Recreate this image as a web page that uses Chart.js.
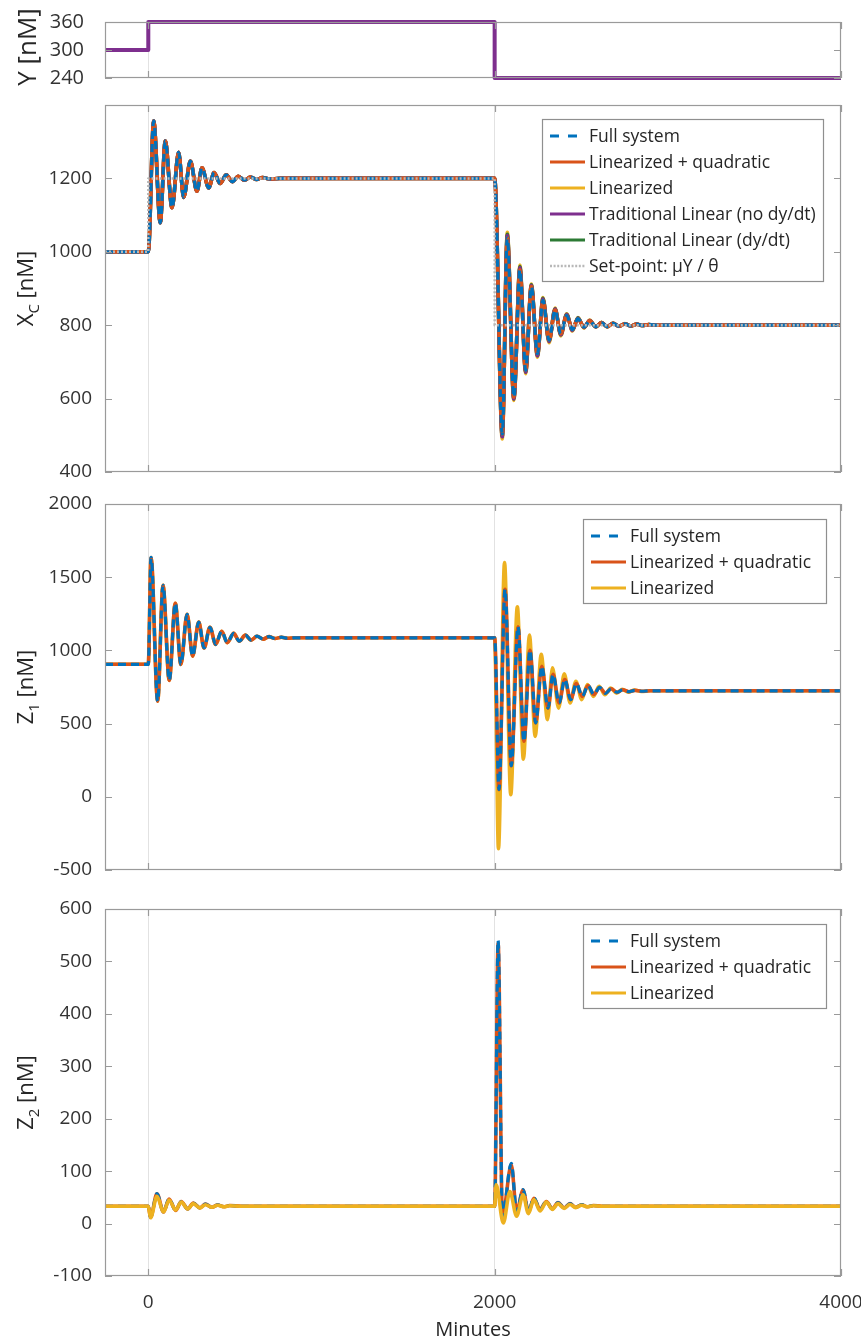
<!DOCTYPE html>
<html>
<head>
<meta charset="utf-8">
<script src="https://cdn.jsdelivr.net/npm/chart.js@4.4.1/dist/chart.umd.min.js"></script>
<style>
  html, body { margin: 0; padding: 0; background: #fff; }
  #fig { position: relative; width: 861px; height: 1341px; overflow: hidden; background: #fff; }
  #fig canvas { position: absolute; left: 0; }
</style>
</head>
<body>
<div id="fig">
  <canvas id="panelY"  width="861" height="95"  style="top:0px"></canvas>
  <canvas id="panelXc" width="861" height="400" style="top:95px"></canvas>
  <canvas id="panelZ1" width="861" height="400" style="top:495px"></canvas>
  <canvas id="panelZ2" width="861" height="446" style="top:895px"></canvas>
</div>
<script>
// ---------- time axis (minutes) ----------
const xTicks = [0, 2000, 4000];

// ---------- input Y [nM] (step input) ----------
const yTimes  = [-250, 0, 2000, 4000];
const yValues = [300, 360, 240, 240];
const yTicks  = [240, 300, 360];

// ---------- X_C [nM] ----------
const xcTicks = [400, 600, 800, 1000, 1200];
const setTimes  = [-250, 0, 2000, 4000];
const setValues = [1000, 1200, 800, 800];
// response to the first step (identical for all models)
const xcRiseT = [-250, 0, 31, 69, 98, 137, 175, 204, 243, 281, 310, 349, 380, 415, 450, 485, 520, 555, 590, 625, 660, 700, 760, 2000];
const xcRiseV = [1000, 1000, 1357, 1079, 1302, 1120, 1271, 1148, 1247, 1165, 1229, 1174, 1216, 1186, 1210, 1191, 1206, 1195, 1204, 1197, 1202.5, 1198.5, 1200, 1200];
// response to the second step
const xcFallT       = [2044, 2073, 2111, 2146, 2179, 2212, 2247, 2279, 2314, 2349, 2382, 2416, 2449, 2481, 2516, 2549, 2584, 2617, 2650, 2684, 2718, 2752, 2786, 2820, 2854, 2890, 2940, 4000];
const xcFallFull    = [503, 1038, 604, 951, 677, 905, 722, 868, 759, 841, 777, 827, 788, 818, 795, 812, 796, 807, 796, 805, 797, 804, 798, 803, 799, 801.5, 800, 800];
const xcFallLinQuad = [503, 1038, 604, 951, 677, 905, 722, 868, 759, 841, 777, 827, 788, 818, 795, 812, 796, 807, 796, 805, 797, 804, 798, 803, 799, 801.5, 800, 800];
const xcFallLin     = [490, 1053, 595, 964, 668, 912, 713, 875, 752, 847, 771, 831, 784, 821, 792, 814, 795, 808, 795.5, 806, 796.5, 804.5, 797.5, 803, 799, 801.5, 800, 800];
const xcFallTradNo  = [496, 1044, 599, 957, 672, 908, 717, 871, 756, 844, 774, 829, 786, 819, 794, 813, 795.5, 807.5, 796, 805.5, 797, 804, 798, 803, 799, 801.5, 800, 800];
const xcFallTradDy  = [497, 1048, 599, 960, 672, 910, 717, 873, 756, 845, 774, 830, 786, 820, 794, 813, 795.5, 807.5, 796, 805.5, 797, 804, 798, 803, 799, 801.5, 800, 800];

// ---------- Z_1 [nM] ----------
const z1Ticks = [-500, 0, 500, 1000, 1500, 2000];
const z1RiseT = [-250, 0, 16, 54, 85, 121, 156, 188, 224, 256, 291, 322, 356, 389, 424, 456, 493, 525, 561, 593, 628, 663, 697, 732, 768, 803, 850, 2000];
const z1RiseV = [905, 905, 1635, 653, 1445, 795, 1322, 904, 1247, 961, 1193, 1017, 1158, 1041, 1131, 1053, 1116, 1063, 1104, 1070, 1097, 1077, 1094, 1081, 1090, 1083, 1086, 1086];
const z1FallT    = [2025, 2060, 2096, 2135, 2169, 2204, 2237, 2272, 2308, 2337, 2372, 2405, 2439, 2472, 2506, 2539, 2573, 2606, 2640, 2673, 2707, 2740, 2775, 2810, 2850, 2900, 4000];
const z1FallFull = [50, 1418, 212, 1161, 379, 1001, 505, 892, 606, 836, 641, 801, 664, 774, 686, 760, 699, 747, 707, 738, 714, 731, 718, 727, 721, 724, 724];
const z1FallLinQuad = [50, 1418, 212, 1161, 379, 1001, 505, 892, 606, 836, 641, 801, 664, 774, 686, 760, 699, 747, 707, 738, 714, 731, 718, 727, 721, 724, 724];
const z1FallLinT = [2022, 2057, 2093, 2131, 2166, 2201, 2234, 2269, 2305, 2334, 2369, 2402, 2436, 2469, 2503, 2536, 2570, 2603, 2637, 2670, 2704, 2737, 2772, 2807, 2847, 2900, 4000];
const z1FallLin  = [-355, 1600, 14, 1298, 257, 1104, 413, 973, 527, 881, 606, 840, 641, 789, 664, 767, 686, 755, 697, 743, 708, 734, 714, 729, 719, 724, 724];

// ---------- Z_2 [nM] ----------
const z2Ticks = [-100, 0, 100, 200, 300, 400, 500, 600];
const z2RiseT    = [-250, 0, 13, 50, 88, 120, 158, 190, 228, 260, 298, 330, 368, 400, 438, 470, 540, 2000];
const z2RiseFull = [33, 33, 12, 57, 22, 47, 25, 42, 28, 39, 30, 37, 31, 35.5, 32, 34.5, 33, 33];
const z2RiseLin  = [33, 33, 11, 52, 22, 45, 26, 41, 28, 38, 30, 36, 31, 35, 32, 34, 33, 33];
const z2FallT       = [2020, 2045, 2096, 2127, 2164, 2195, 2227, 2262, 2299, 2333, 2366, 2401, 2435, 2468, 2502, 2536, 2570, 2620, 4000];
const z2FallFull    = [540, 12, 115, 23, 65, 23, 49, 27, 42, 28, 40, 30, 38, 31, 36, 32, 34.5, 33, 33];
const z2FallLinQuad = [535, 13, 112, 23, 64, 23, 48, 27, 42, 28, 40, 30, 38, 31, 36, 32, 34.5, 33, 33];
const z2FallLinT    = [2009, 2050, 2088, 2127, 2164, 2195, 2227, 2262, 2299, 2333, 2366, 2401, 2435, 2468, 2502, 2536, 2570, 2620, 4000];
const z2FallLin     = [74, 1, 61, 14, 55, 19, 46, 24, 41, 27, 38, 29, 36.5, 30.5, 35, 32, 34, 33, 33];

// ---------- series names ----------
const nameFull    = 'Full system';
const nameLinQuad = 'Linearized + quadratic';
const nameLin     = 'Linearized';
const nameTradNo  = 'Traditional Linear (no dy/dt)';
const nameTradDy  = 'Traditional Linear (dy/dt)';
const nameSet     = 'Set-point: \u03bcY / \u03b8';

// ---------- colours ----------
const BLUE = '#0072BD', RED = '#D95319', YELLOW = '#EDB120', PURPLE = '#7E2F8E', GREEN = '#2C7A34', SETGRAY = '#b8b8b8';
const FONT = '"Open Sans", "DejaVu Sans", sans-serif';

function pts(times, values) {
  return times.map((t, i) => ({ x: t, y: values[i] }));
}

function curve(label, data, color, width, extra) {
  return Object.assign({
    label, data, borderColor: color, backgroundColor: color, borderWidth: width,
    pointRadius: 0, fill: false, cubicInterpolationMode: 'monotone',
    borderCapStyle: 'butt', borderJoinStyle: 'round'
  }, extra || {});
}

// plain tick numbers, no thousands separator
const plainNumber = v => String(v);

// box around each axes + inward tick marks on all four sides
const frameBox = {
  id: 'frameBox',
  afterDatasetsDraw(chart) {
    const { ctx, chartArea: ca, scales } = chart;
    ctx.save();
    ctx.strokeStyle = '#9a9a9a';
    ctx.lineWidth = 1.2;
    ctx.setLineDash([]);
    ctx.strokeRect(Math.round(ca.left) + 0.5, Math.round(ca.top) + 0.5, Math.round(ca.width) - 1, Math.round(ca.height) - 1);
    const tl = 7;
    ctx.beginPath();
    scales.y.ticks.forEach(t => {
      const py = Math.round(scales.y.getPixelForValue(t.value)) + 0.5;
      ctx.moveTo(ca.left, py); ctx.lineTo(ca.left + tl, py);
      ctx.moveTo(ca.right - tl, py); ctx.lineTo(ca.right, py);
    });
    scales.x.ticks.forEach(t => {
      const px = Math.round(scales.x.getPixelForValue(t.value)) + 0.5;
      ctx.moveTo(px, ca.top); ctx.lineTo(px, ca.top + tl);
      ctx.moveTo(px, ca.bottom - tl); ctx.lineTo(px, ca.bottom);
    });
    ctx.stroke();
    ctx.restore();
  }
};

// rotated axis title with optional subscript
const sideTitle = {
  id: 'sideTitle',
  afterDraw(chart, args, o) {
    if (!o || !o.text) return;
    const ctx = chart.ctx, ca = chart.chartArea;
    const cy = (ca.top + ca.bottom) / 2 + (o.dy || 0);
    ctx.save();
    ctx.translate(o.x, cy);
    ctx.rotate(-Math.PI / 2);
    ctx.fillStyle = '#262626';
    ctx.textAlign = 'left';
    ctx.textBaseline = 'alphabetic';
    const main = o.size + 'px ' + FONT, small = o.subSize + 'px ' + FONT;
    ctx.font = main; const w1 = ctx.measureText(o.text).width;
    ctx.font = small; const w2 = o.sub ? ctx.measureText(o.sub).width : 0;
    ctx.font = main; const w3 = ctx.measureText(o.unit).width;
    let x = -(w1 + w2 + w3) / 2;
    const base = o.size * 0.36;
    ctx.font = main; ctx.fillText(o.text, x, base); x += w1;
    if (o.sub) { ctx.font = small; ctx.fillText(o.sub, x, base + o.size * 0.28); x += w2; }
    ctx.font = main; ctx.fillText(o.unit, x, base);
    ctx.restore();
  }
};

// horizontal title under the bottom axes
const bottomTitle = {
  id: 'bottomTitle',
  afterDraw(chart, args, o) {
    if (!o || !o.text) return;
    const ctx = chart.ctx, ca = chart.chartArea;
    ctx.save();
    ctx.fillStyle = '#262626';
    ctx.font = o.size + 'px ' + FONT;
    ctx.textAlign = 'center';
    ctx.textBaseline = 'middle';
    ctx.fillText(o.text, (ca.left + ca.right) / 2, o.y);
    ctx.restore();
  }
};

// boxed legend inside the axes, top-right
const legendBox = {
  id: 'legendBox',
  afterDraw(chart, args, o) {
    if (!o || !o.show) return;
    const ctx = chart.ctx, ca = chart.chartArea;
    const items = chart.data.datasets;
    ctx.save();
    ctx.font = o.fontSize + 'px ' + FONT;
    let tw = 0;
    items.forEach(d => { tw = Math.max(tw, ctx.measureText(d.label).width); });
    const padL = 8, sample = 35, gap = 4, padR = o.padR || 7, row = 26;
    const w = Math.round(padL + sample + gap + tw + padR);
    const h = 17 + (items.length - 1) * row + 15;
    const right = Math.round(ca.right - o.right), top = Math.round(ca.top + o.top), left = right - w;
    ctx.fillStyle = '#fff';
    ctx.fillRect(left, top, w, h);
    ctx.strokeStyle = '#8f8f8f';
    ctx.lineWidth = 1.2;
    ctx.strokeRect(left + 0.5, top + 0.5, w, h);
    items.forEach((d, i) => {
      const cy = top + 17 + i * row;
      ctx.beginPath();
      ctx.setLineDash(d.legendDash || []);
      ctx.strokeStyle = d.borderColor;
      ctx.lineWidth = d.legendWidth || 3;
      ctx.moveTo(left + padL, cy);
      ctx.lineTo(left + padL + sample, cy);
      ctx.stroke();
      ctx.setLineDash([]);
      ctx.fillStyle = '#262626';
      ctx.textBaseline = 'middle';
      ctx.textAlign = 'left';
      ctx.fillText(d.label, left + padL + sample + gap, cy + 1);
    });
    ctx.restore();
  }
};

function panelOptions(o) {
  return {
    responsive: false,
    animation: false,
    devicePixelRatio: 1,
    events: [],
    layout: { padding: { left: 35, right: 20, top: o.padTop, bottom: o.padBottom } },
    plugins: {
      legend: { display: false },
      tooltip: { enabled: false },
      sideTitle: o.title,
      legendBox: o.legend || { show: false },
      bottomTitle: o.bottom || {}
    },
    scales: {
      x: {
        type: 'linear', min: -250, max: 4000,
        afterBuildTicks: s => { s.ticks = xTicks.map(v => ({ value: v })); },
        afterFit: s => { s.height = o.xHeight; s.paddingLeft = 0; s.paddingRight = 0; },
        grid: {
          display: true, drawTicks: false, lineWidth: 1,
          color: c => (c.tick && (c.tick.value === 0 || c.tick.value === 2000)) ? '#e2e2e2' : 'rgba(0,0,0,0)'
        },
        border: { display: false },
        ticks: { display: !!o.xLabels, callback: plainNumber, font: { size: 19, family: FONT }, padding: 15, maxRotation: 0, autoSkip: false, color: '#333' }
      },
      y: {
        type: 'linear', min: o.ymin, max: o.ymax,
        afterBuildTicks: s => { s.ticks = o.yTicks.map(v => ({ value: v })); },
        afterFit: s => { s.width = 70; s.paddingTop = 0; s.paddingBottom = 0; },
        grid: { display: false, drawTicks: false },
        border: { display: false },
        ticks: { callback: plainNumber, font: { size: o.tickSize || 19, family: FONT }, padding: o.tickPad, autoSkip: false, color: '#333' }
      }
    }
  };
}

function build() {
  Chart.register(frameBox, sideTitle, bottomTitle, legendBox);

  // input
  new Chart(document.getElementById('panelY'), {
    type: 'line',
    data: { datasets: [
      curve('Y', pts(yTimes, yValues), PURPLE, 4, { stepped: 'before', cubicInterpolationMode: 'default', clip: 6 })
    ] },
    options: panelOptions({
      padTop: 22, padBottom: 17, xHeight: 0, ymin: 240, ymax: 360, yTicks: yTicks,
      tickSize: 20, tickPad: 21,
      title: { text: 'Y [nM]', sub: '', unit: '', size: 26, subSize: 18, x: 27, dy: -3 }
    })
  });

  // X_C
  new Chart(document.getElementById('panelXc'), {
    type: 'line',
    data: { datasets: [
      curve(nameFull, pts(xcRiseT.concat(xcFallT), xcRiseV.concat(xcFallFull)), BLUE, 3.2,
        { borderDash: [8, 5], order: 1, legendDash: [9, 9], legendWidth: 3 }),
      curve(nameLinQuad, pts(xcRiseT.concat(xcFallT), xcRiseV.concat(xcFallLinQuad)), RED, 3.6, { order: 2 }),
      curve(nameLin, pts(xcRiseT.concat(xcFallT), xcRiseV.concat(xcFallLin)), YELLOW, 3.6, { order: 5 }),
      curve(nameTradNo, pts(xcRiseT.concat(xcFallT), xcRiseV.concat(xcFallTradNo)), PURPLE, 3.6, { order: 3 }),
      curve(nameTradDy, pts(xcRiseT.concat(xcFallT), xcRiseV.concat(xcFallTradDy)), GREEN, 3.6, { order: 4 }),
      curve(nameSet, pts(setTimes, setValues), SETGRAY, 2.5,
        { stepped: 'before', cubicInterpolationMode: 'default', borderDash: [2, 2], order: 0, legendDash: [2, 1.6], legendWidth: 2.5 })
    ] },
    options: panelOptions({
      padTop: 10, padBottom: 23, xHeight: 0, ymin: 400, ymax: 1400, yTicks: xcTicks,
      tickPad: 13,
      title: { text: 'X', sub: 'C', unit: ' [nM]', size: 22, subSize: 15, x: 25, dy: 0 },
      legend: { show: true, fontSize: 17.5, top: 14, right: 18, padR: 7 }
    })
  });

  // Z_1
  new Chart(document.getElementById('panelZ1'), {
    type: 'line',
    data: { datasets: [
      curve(nameFull, pts(z1RiseT.concat(z1FallT), z1RiseV.concat(z1FallFull)), BLUE, 3.2,
        { borderDash: [8, 5], order: 0, legendDash: [9, 9], legendWidth: 3 }),
      curve(nameLinQuad, pts(z1RiseT.concat(z1FallT), z1RiseV.concat(z1FallLinQuad)), RED, 3.6, { order: 1 }),
      curve(nameLin, pts(z1RiseT.concat(z1FallLinT), z1RiseV.concat(z1FallLin)), YELLOW, 3.6, { order: 2 })
    ] },
    options: panelOptions({
      padTop: 9, padBottom: 25, xHeight: 0, ymin: -500, ymax: 2000, yTicks: z1Ticks,
      tickPad: 13,
      title: { text: 'Z', sub: '1', unit: ' [nM]', size: 22, subSize: 15, x: 25, dy: 0 },
      legend: { show: true, fontSize: 17.5, top: 15, right: 15, padR: 15 }
    })
  });

  // Z_2
  new Chart(document.getElementById('panelZ2'), {
    type: 'line',
    data: { datasets: [
      curve(nameFull, pts(z2RiseT.concat(z2FallT), z2RiseFull.concat(z2FallFull)), BLUE, 3.2,
        { borderDash: [8, 5], order: 1, legendDash: [9, 9], legendWidth: 3 }),
      curve(nameLinQuad, pts(z2RiseT.concat(z2FallT), z2RiseFull.concat(z2FallLinQuad)), RED, 3.6, { order: 2 }),
      curve(nameLin, pts(z2RiseT.concat(z2FallLinT), z2RiseLin.concat(z2FallLin)), YELLOW, 3.6, { order: 0 })
    ] },
    options: panelOptions({
      padTop: 14, padBottom: 5, xHeight: 60, ymin: -100, ymax: 600, yTicks: z2Ticks,
      tickPad: 13, xLabels: true,
      title: { text: 'Z', sub: '2', unit: ' [nM]', size: 22, subSize: 15, x: 25, dy: 0 },
      legend: { show: true, fontSize: 17.5, top: 15, right: 15, padR: 15 },
      bottom: { text: 'Minutes', size: 20, y: 435 }
    })
  });
}

const fontReady = (document.fonts && document.fonts.load)
  ? Promise.all([document.fonts.load('19px "Open Sans"'), document.fonts.load('26px "Open Sans"')])
  : Promise.resolve();
fontReady.then(build, build);
</script>
</body>
</html>
